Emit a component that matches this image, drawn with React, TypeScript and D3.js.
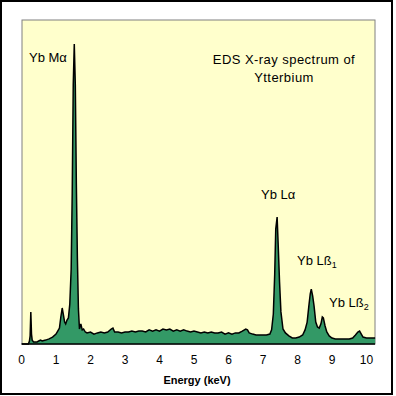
import React from "react"
import * as d3 from "d3"

// energy (keV) and counts
const energies = [
  0, 0.2, 0.23, 0.25, 0.27, 0.29, 0.31, 0.35, 0.45, 0.5, 0.55, 0.6, 0.7, 0.8, 0.9,
  1.0, 1.05, 1.1, 1.14, 1.18, 1.21, 1.25, 1.28, 1.32, 1.36, 1.4, 1.44, 1.47, 1.5,
  1.53, 1.56, 1.59, 1.62, 1.65, 1.68, 1.72, 1.76, 1.8, 1.85, 1.9, 2.0, 2.1, 2.2,
  2.3, 2.4, 2.5, 2.6, 2.65, 2.7, 2.8, 2.9, 3.0, 3.1, 3.2, 3.3, 3.4, 3.5, 3.6, 3.7,
  3.8, 3.9, 4.0, 4.1, 4.2, 4.3, 4.4, 4.5, 4.6, 4.7, 4.8, 4.9, 5.0, 5.1, 5.2, 5.3,
  5.4, 5.5, 5.6, 5.7, 5.8, 5.9, 6.0, 6.1, 6.2, 6.3, 6.4, 6.5, 6.55, 6.6, 6.7, 6.8,
  6.9, 7.0, 7.1, 7.2, 7.25, 7.3, 7.34, 7.37, 7.41, 7.44, 7.48, 7.52, 7.58, 7.65,
  7.75, 7.85, 7.95, 8.05, 8.15, 8.22, 8.28, 8.33, 8.37, 8.4, 8.44, 8.48, 8.53,
  8.58, 8.63, 8.68, 8.72, 8.75, 8.8, 8.85, 8.92, 9.0, 9.1, 9.2, 9.3, 9.4, 9.5,
  9.6, 9.68, 9.75, 9.8, 9.85, 9.9, 10.0, 10.1, 10.25,
]
const counts = [
  0, 0, 10, 27, 107, 33, 13, 7, 7, 10, 13, 10, 13, 17, 23,
  33, 43, 53, 90, 120, 100, 73, 67, 80, 87, 133, 250, 500, 863,
  1000, 863, 533, 287, 117, 50, 67, 47, 50, 40, 37, 40, 33, 37,
  40, 37, 40, 50, 53, 40, 40, 37, 40, 40, 43, 40, 43, 43, 40, 47,
  43, 47, 43, 50, 47, 50, 43, 47, 43, 47, 43, 40, 43, 40, 37, 40,
  37, 40, 37, 37, 40, 33, 37, 33, 37, 37, 43, 50, 47, 37, 33, 30,
  30, 30, 30, 33, 47, 100, 233, 383, 423, 333, 207, 107, 50, 37,
  27, 20, 20, 23, 30, 47, 73, 127, 167, 183, 160, 127, 73,
  57, 53, 67, 90, 87, 60, 40, 27, 20, 17, 17, 17, 17, 17,
  20, 30, 40, 43, 33, 23, 20, 20, 20,
]
const xTicks = [0, 1, 2, 3, 4, 5, 6, 7, 8, 9, 10]

const W = 396
const H = 396
const left = 22
const right = 375
const top = 20
const bottom = 344

export default function App() {
  const x = d3.scaleLinear().domain([0, 10.25]).range([21.5, 375.1])
  const y = d3.scaleLinear().domain([0, 1080]).range([bottom, top])
  const pts = energies.map((e, i) => [e, counts[i]] as [number, number])

  const area = d3
    .area<[number, number]>()
    .x((d) => x(d[0]))
    .y0(bottom)
    .y1((d) => y(d[1]))
  const line = d3
    .line<[number, number]>()
    .x((d) => x(d[0]))
    .y((d) => y(d[1]))

  const font = "'Liberation Sans', Arial, sans-serif"

  return (
    <svg
      width={W}
      height={H}
      style={{ position: "absolute", left: 0, top: 0, background: "#fff" }}
      fontFamily={font}
    >
      <rect x={1} y={1} width={391} height={393} fill="#fff" stroke="#000" strokeWidth={2} />
      <rect x={left} y={top} width={right - left} height={bottom - top} fill="#ffffcc" stroke="#808080" strokeWidth={1} />
      <path d={area(pts) || ""} fill="#339966" />
      <path d={line(pts) || ""} fill="none" stroke="#000" strokeWidth={1.5} />
      <line x1={left} x2={right} y1={bottom} y2={bottom} stroke="#000" strokeWidth={1.5} />

      {xTicks.map((t) => (
        <text key={t} x={x(t)} y={364} textAnchor="middle" fontSize={12}>
          {t}
        </text>
      ))}
      <text x={197} y={384} textAnchor="middle" fontSize={11} fontWeight="bold">
        Energy (keV)
      </text>

      <text x={284} y={64} textAnchor="middle" fontSize={13} letterSpacing={0.45}>EDS X-ray spectrum of</text>
      <text x={284} y={82} textAnchor="middle" fontSize={13} letterSpacing={0.45}>Ytterbium</text>

      <text x={29} y={62} fontSize={13}>Yb Mα</text>
      <text x={261} y={199} fontSize={13}>Yb Lα</text>
      <text x={297} y={265} fontSize={13}>
        Yb Lß<tspan fontSize={9} dy={3}>1</tspan>
      </text>
      <text x={329} y={307} fontSize={13}>
        Yb Lß<tspan fontSize={9} dy={3}>2</tspan>
      </text>
    </svg>
  )
}
